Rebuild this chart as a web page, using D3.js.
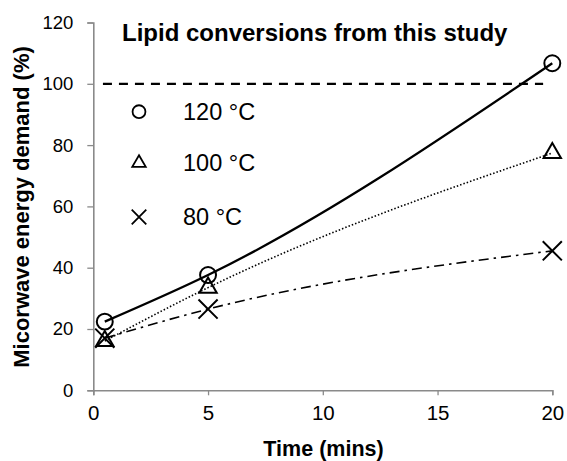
<!DOCTYPE html>
<html><head><meta charset="utf-8">
<script src="https://cdn.jsdelivr.net/npm/d3@7"></script>
<style>
html,body{margin:0;padding:0;background:#fff;}
svg text{font-family:"Liberation Sans",Arial,sans-serif;}
</style></head>
<body><svg id="c" width="567" height="461"></svg>
<script>
const times = [0.5, 5, 20];
const series120 = [22.4, 37.6, 106.7];
const series100 = [16.1, 33.5, 77.4];
const series80 = [17.0, 26.5, 45.5];
const seriesLabels = ["120 °C", "100 °C", "80 °C"];
const xTicks = [0, 5, 10, 15, 20];
const yTicks = [0, 20, 40, 60, 80, 100, 120];
const refY = 100;
const refX = [0.42, 19.6];
const title = "Lipid conversions from this study";
const xTitle = "Time (mins)";
const yTitle = "Micorwave energy demand (%)";

const svg = d3.select("#c");
const x = d3.scaleLinear().domain([0, 20]).range([93.3, 552.3]);
const y = d3.scaleLinear().domain([0, 120]).range([390.3, 22.5]);
const axisColor = "#8a8a8a";

// axes
const gx = svg.append("g").attr("transform", `translate(0,${y(0)})`)
  .call(d3.axisBottom(x).tickValues(xTicks).tickSize(5).tickPadding(10).tickFormat(d3.format("d")));
const gy = svg.append("g").attr("transform", `translate(${x(0)},0)`)
  .call(d3.axisLeft(y).tickValues(yTicks).tickSize(6).tickPadding(14).tickFormat(d3.format("d")));
[gx, gy].forEach(g => {
  g.select(".domain").attr("stroke", axisColor).attr("stroke-width", 1.6);
  g.selectAll(".tick line").attr("stroke", axisColor).attr("stroke-width", 1.3);
  g.selectAll(".tick text").attr("fill", "#000");
});
gx.selectAll(".tick text").style("font-size", "20.5px");
gy.selectAll(".tick text").style("font-size", "18.5px");

// reference line
svg.append("line")
  .attr("x1", x(refX[0])).attr("x2", x(refX[1]))
  .attr("y1", y(refY)).attr("y2", y(refY))
  .attr("stroke", "#000").attr("stroke-width", 2.2).attr("stroke-dasharray", "9,7");

const defs = [
  {vals: series120, dash: null, width: 2.3, sym: d3.symbolCircle, size: 200, lsize: 130},
  {vals: series100, dash: "1.5,2", width: 1.6, sym: d3.symbolTriangle2, size: 215, lsize: 130},
  {vals: series80, dash: "10,5,2.5,5", width: 1.6, sym: d3.symbolTimes, size: 240, lsize: 140}
];

const line = d3.line().x((d, i) => x(times[i])).y(d => y(d)).curve(d3.curveMonotoneX);

defs.forEach(s => {
  const p = svg.append("path").attr("d", line(s.vals))
    .attr("fill", "none").attr("stroke", "#000").attr("stroke-width", s.width);
  if (s.dash) p.attr("stroke-dasharray", s.dash);
});
defs.forEach(s => {
  svg.append("g").selectAll("path").data(s.vals).join("path")
    .attr("d", d3.symbol().type(s.sym).size(s.size))
    .attr("transform", (d, i) => `translate(${x(times[i])},${y(d)})`)
    .attr("fill", "none").attr("stroke", "#000").attr("stroke-width", 2);
});

// title
svg.append("text").attr("x", 122).attr("y", 41).text(title)
  .style("font-size", "24px").style("font-weight", "bold").attr("fill", "#000");

// legend
const legY = [111.7, 163, 217];
defs.forEach((s, i) => {
  svg.append("path").attr("d", d3.symbol().type(s.sym).size(s.lsize))
    .attr("transform", `translate(139,${legY[i]})`)
    .attr("fill", "none").attr("stroke", "#000").attr("stroke-width", 1.8);
  svg.append("text").attr("x", 183).attr("y", legY[i] + 8).text(seriesLabels[i])
    .style("font-size", "23.5px").attr("fill", "#000");
});

// axis titles
svg.append("text").attr("x", 323.5).attr("y", 455.5).attr("text-anchor", "middle")
  .text(xTitle).style("font-size", "21.5px").style("font-weight", "bold");
svg.append("text").attr("transform", "translate(28.5,207) rotate(-90)").attr("text-anchor", "middle")
  .text(yTitle).style("font-size", "22px").style("font-weight", "bold");
</script></body></html>
